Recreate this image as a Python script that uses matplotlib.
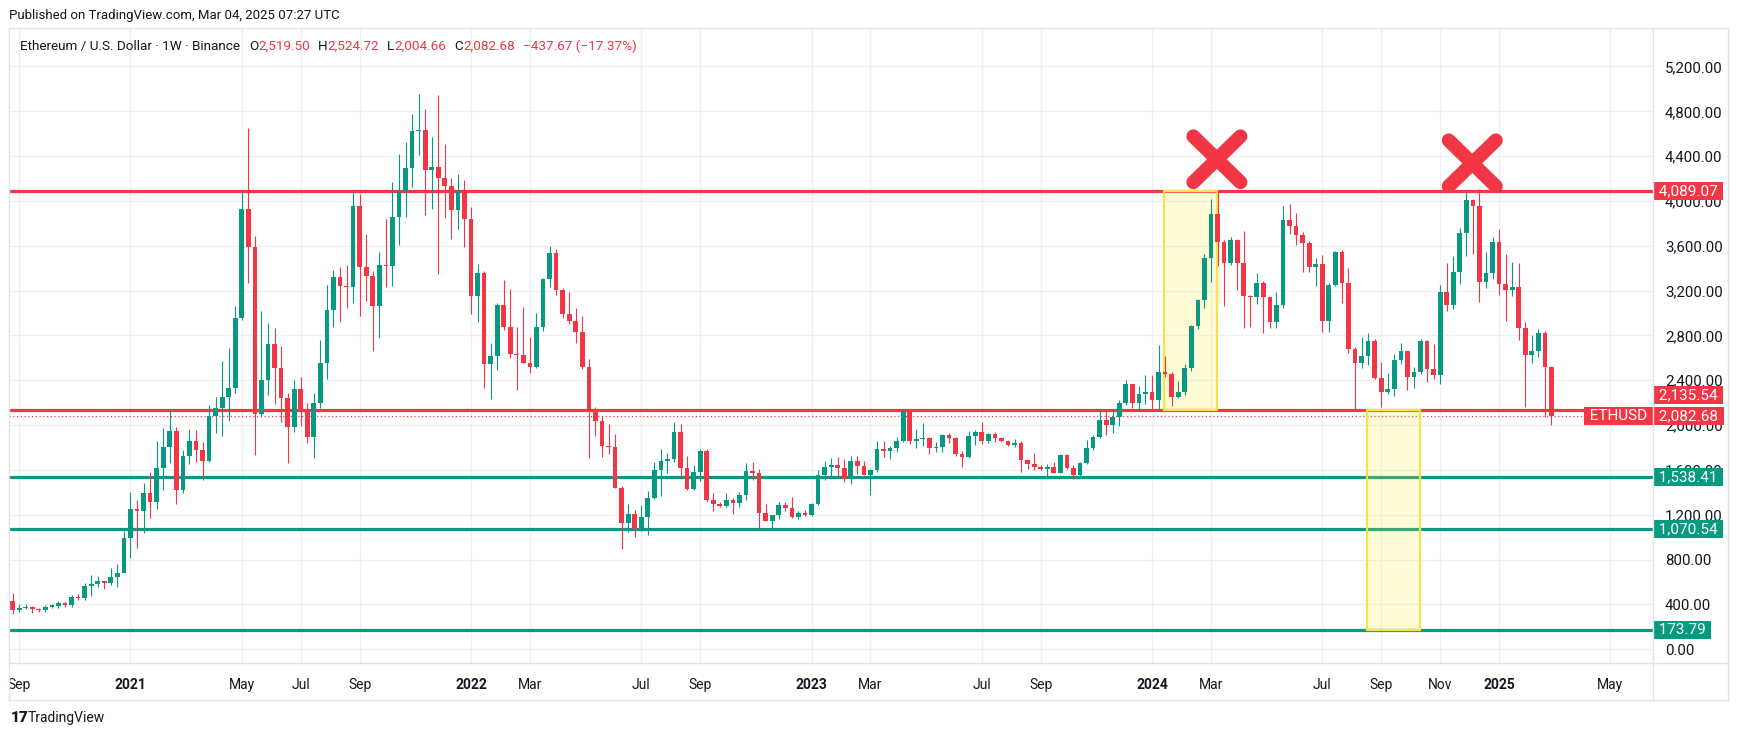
import numpy as np
import pandas as pd
import matplotlib
matplotlib.use('Agg')
import matplotlib.pyplot as plt
from matplotlib.patches import Rectangle
from matplotlib.transforms import Bbox, TransformedBbox

plt.rcParams['font.family'] = ['Roboto', 'DejaVu Sans']

# ETHUSD weekly candles (Binance), first bar = week of 31 Aug 2020
first_week = '2020-08-31'
opens = [434, 353, 370, 380, 358, 346, 380, 384, 412, 394, 465, 453, 563, 581, 610, 592, 643, 684, 990, 1253,
         1232, 1395, 1313, 1618, 1804, 1943, 1419, 1727, 1855, 1781, 1683, 2083, 2155, 2250, 2332, 2960, 3929, 3588, 2101, 2400,
         2723, 2510, 2246, 1979, 2323, 2130, 1890, 2198, 2554, 3025, 3322, 3241, 3232, 3958, 3410, 3330, 3064, 3425, 3419, 3855,
         4092, 4296, 4625, 4634, 4273, 4305, 4201, 4136, 3923, 4077, 3837, 3153, 3354, 2548, 2616, 3070, 2877, 2634, 2625, 2557,
         2521, 2874, 3300, 3532, 3206, 2990, 2930, 2832, 2521, 2136, 2038, 1812, 1802, 1437, 1126, 1203, 1072, 1176, 1345, 1603,
         1683, 1701, 1941, 1615, 1428, 1585, 1772, 1330, 1292, 1274, 1327, 1303, 1372, 1594, 1570, 1215, 1144, 1194, 1283, 1256,
         1179, 1218, 1194, 1292, 1558, 1630, 1647, 1621, 1517, 1683, 1638, 1558, 1603, 1790, 1772, 1799, 1861, 2130, 1861, 1879,
         1887, 1798, 1807, 1914, 1887, 1745, 1718, 1905, 1941, 1861, 1923, 1887, 1861, 1825, 1843, 1686, 1656, 1630, 1612, 1630,
         1576, 1736, 1621, 1553, 1665, 1799, 1896, 2047, 2003, 2068, 2198, 2367, 2201, 2278, 2296, 2221, 2474, 2453, 2253, 2292,
         2509, 2887, 3116, 3488, 3884, 3637, 3449, 3652, 3449, 3152, 3146, 3265, 3140, 2923, 3071, 3830, 3780, 3696, 3622, 3414,
         3434, 2929, 3247, 3545, 3271, 2682, 2551, 2616, 2750, 2423, 2292, 2319, 2581, 2658, 2429, 2474, 2750, 2500, 2447, 3188,
         3074, 3366, 3714, 4009, 3958, 3277, 3357, 3634, 3262, 3208, 3232, 2869, 2628, 2661, 2822, 2519.50]
highs = [498, 400, 403, 388, 370, 392, 403, 430, 424, 483, 492, 590, 661, 652, 612, 729, 761, 1055, 1404, 1327,
         1479, 1582, 1861, 1976, 2136, 1979, 1775, 1967, 1958, 1846, 2181, 2250, 2572, 2687, 3059, 4092, 4652, 3683, 3019, 2915,
         2868, 2705, 2287, 2403, 2430, 2201, 2282, 2760, 3247, 3384, 3407, 3428, 4092, 4065, 3701, 3372, 3541, 3843, 4172, 4421,
         4527, 4776, 4957, 4821, 4572, 4945, 4510, 4207, 4243, 4190, 3950, 3434, 3375, 2732, 3090, 3292, 3212, 2877, 3052, 2785,
         2998, 3310, 3594, 3567, 3221, 3185, 3043, 2972, 2590, 2160, 2083, 2012, 1923, 1455, 1292, 1241, 1283, 1416, 1668, 1790,
         1754, 2030, 2012, 1727, 1647, 1790, 1790, 1398, 1315, 1390, 1345, 1407, 1665, 1674, 1612, 1292, 1200, 1310, 1310, 1354,
         1232, 1238, 1301, 1603, 1683, 1709, 1718, 1701, 1727, 1727, 1683, 1610, 1861, 1861, 1816, 1896, 2145, 2136, 1967, 2021,
         1896, 1852, 1923, 1932, 1896, 1772, 1950, 1959, 2030, 1932, 1941, 1896, 1870, 1878, 1861, 1701, 1754, 1640, 1656, 1674,
         1745, 1745, 1640, 1674, 1870, 1914, 2136, 2136, 2136, 2225, 2403, 2367, 2350, 2447, 2447, 2715, 2616, 2470, 2393, 2545,
         2893, 3125, 3524, 4017, 4089, 3650, 3675, 3660, 3732, 3160, 3354, 3283, 3145, 3188, 3955, 3976, 3896, 3720, 3643, 3488,
         3515, 3265, 3553, 3562, 3405, 2700, 2786, 2822, 2765, 2566, 2462, 2634, 2732, 2665, 2521, 2765, 2755, 2726, 3247, 3443,
         3509, 3759, 4098, 4020, 4104, 3545, 3678, 3750, 3527, 3455, 3446, 2920, 2804, 2857, 2840, 2524.72]
lows = [314, 335, 358, 323, 335, 336, 367, 364, 376, 376, 441, 441, 474, 554, 536, 572, 554, 684, 812, 900,
        1037, 1170, 1250, 1425, 1659, 1292, 1398, 1656, 1674, 1514, 1668, 1925, 1900, 2032, 2290, 2942, 3265, 1730, 2068, 2264,
        2184, 2030, 1659, 1935, 1988, 1837, 1704, 2150, 2412, 2877, 2916, 3046, 3093, 2975, 3105, 2664, 2779, 3233, 3239, 3606,
        3855, 4122, 4412, 3873, 3926, 3348, 3846, 3659, 3748, 3588, 2993, 2918, 2332, 2231, 2495, 2850, 2596, 2317, 2557, 2462,
        2510, 2838, 3233, 3161, 2960, 2901, 2735, 2504, 1704, 1905, 1713, 1745, 1437, 895, 1049, 1002, 1055, 1020, 1339, 1366,
        1570, 1668, 1535, 1420, 1420, 1499, 1312, 1232, 1268, 1265, 1203, 1268, 1333, 1511, 1081, 1140, 1081, 1161, 1230, 1170,
        1161, 1185, 1188, 1283, 1508, 1544, 1544, 1496, 1472, 1562, 1553, 1375, 1580, 1718, 1695, 1763, 1852, 1834, 1798, 1816,
        1745, 1763, 1763, 1843, 1727, 1630, 1709, 1825, 1834, 1843, 1852, 1852, 1816, 1807, 1579, 1606, 1603, 1603, 1550, 1570,
        1570, 1612, 1523, 1544, 1656, 1781, 1887, 1914, 1932, 1994, 2181, 2154, 2127, 2190, 2140, 2140, 2426, 2170, 2245, 2268,
        2480, 2860, 3042, 3280, 3420, 3066, 3428, 3205, 2869, 2878, 3080, 2825, 2869, 2869, 3048, 3705, 3610, 3369, 3369, 3244,
        2834, 2834, 3241, 3092, 2646, 2134, 2509, 2539, 2414, 2158, 2280, 2262, 2545, 2313, 2331, 2453, 2387, 2411, 2364, 3021,
        3036, 3259, 3509, 3527, 3101, 3226, 3307, 3164, 2932, 3155, 2759, 2164, 2557, 2610, 2075, 2004.66]
closes = opens[1:] + [2082.68]

# horizontal levels drawn on the chart
red_levels = [4089.07, 2135.54]
green_levels = [1538.41, 1070.54, 173.79]
last_price = 2082.68

# highlighted boxes (bar index from / to, price from / to)
box_x0 = [175.8, 206.9]
box_x1 = [183.9, 214.9]
box_lo = [2135.54, 173.79]
box_hi = [4089.07, 2135.54]

# red crosses above the two tops (bar index, price)
cross_x = [183.9, 222.9]
cross_y = [4372, 4336]

# time axis labels
month_ticks = ['2020-09', '2021-01', '2021-05', '2021-07', '2021-09', '2022-01', '2022-03', '2022-07', '2022-09',
               '2023-01', '2023-03', '2023-07', '2023-09', '2024-01', '2024-03', '2024-07', '2024-09', '2024-11',
               '2025-01', '2025-05']
month_labels = ['Sep', '2021', 'May', 'Jul', 'Sep', '2022', 'Mar', 'Jul', 'Sep', '2023', 'Mar', 'Jul', 'Sep',
                '2024', 'Mar', 'Jul', 'Sep', 'Nov', '2025', 'May']
price_ticks = np.arange(0, 5201, 400)

RED = '#F23645'
GREEN = '#089981'
TXT = '#131722'
GRID = '#F0F0F0'
W, H = 1737, 737

o = np.array(opens, float)
h = np.array(highs, float)
l = np.array(lows, float)
c = np.array(closes, float)
n = len(o)
idx = np.arange(n)
weeks = pd.date_range(first_week, periods=n + 20, freq='W-MON')
up = c >= o

fig = plt.figure(figsize=(W / 100, H / 100), dpi=100)
ax = fig.add_axes([9 / W, 1 - 662.5 / H, (1653 - 9) / W, (662.5 - 28) / H])
ax.set_xlim(-0.55, 250.5)
ax.set_ylim(-118.7, 5543.5)

# grid
tick_pos = [weeks.searchsorted(pd.Timestamp(m + '-01')) for m in month_ticks]
for x in tick_pos:
    ax.axvline(x, color=GRID, lw=1, zorder=0)
for y in price_ticks:
    ax.axhline(y, color=GRID, lw=1, zorder=0)

# levels
for y in red_levels:
    ax.axhline(y, color=RED, lw=2.3, zorder=2)
for y in green_levels:
    ax.axhline(y, color=GREEN, lw=2.3, zorder=2)
ax.axhline(last_price, color=RED, lw=0.9, ls=(0, (1, 2)), zorder=2)

# yellow boxes
for x0, x1, lo, hi in zip(box_x0, box_x1, box_lo, box_hi):
    ax.add_patch(Rectangle((x0, lo), x1 - x0, hi - lo, facecolor=(1, 0.92, 0.23, 0.2),
                           edgecolor='#F7E44A', lw=1.6, zorder=3))

# candles
colors = np.where(up, GREEN, RED)
ax.vlines(idx, l, h, colors=colors, lw=0.8, zorder=4)
body = np.abs(c - o)
body = np.where(body < 10, 10, body)
ax.bar(idx, body, bottom=np.minimum(o, c), width=0.72, color=colors, lw=0, zorder=5)

# crosses
for cx, cy in zip(cross_x, cross_y):
    ax.plot([cx - 3.6, cx + 3.6], [cy + 205, cy - 205], color=RED, lw=10, solid_capstyle='round', zorder=6)
    ax.plot([cx - 3.6, cx + 3.6], [cy - 205, cy + 205], color=RED, lw=10, solid_capstyle='round', zorder=6)

# axes
for s in ax.spines.values():
    s.set_visible(False)
ax.yaxis.tick_right()
ax.set_yticks(price_ticks)
ax.set_yticklabels(['{:,.2f}'.format(v) for v in price_ticks])
ax.set_xticks(tick_pos)
ax.set_xticklabels(month_labels)
for t in ax.get_xticklabels():
    if t.get_text().isdigit():
        t.set_fontweight('bold')
ax.tick_params(axis='y', length=0, pad=8.5, labelsize=10.8, labelcolor=TXT)
ax.tick_params(axis='x', length=0, pad=11, labelsize=10, labelcolor=TXT)
# first label is cut by the pane border
first = ax.get_xticklabels()[0]
first.set_clip_on(True)
first.set_clip_box(TransformedBbox(Bbox([[9.5 / W, 0], [1, 1]]), fig.transFigure))

# price labels on the scale
box = dict(boxstyle='square,pad=0.12', lw=0)
def price_tag(y, col, dy=0):
    ax.annotate(' {:,.2f} '.format(y), xy=(1, y), xycoords=ax.get_yaxis_transform(), xytext=(1.5, dy),
                textcoords='offset points', ha='left', va='center', color='white', fontsize=11,
                bbox=dict(box, fc=col), zorder=10, annotation_clip=False)

price_tag(4089.07, RED)
price_tag(2135.54, RED, 10.8)
price_tag(last_price, RED)
for y in green_levels:
    price_tag(y, GREEN)
ax.annotate(' ETHUSD ', xy=(1, last_price), xycoords=ax.get_yaxis_transform(), xytext=(-1.5, 0),
            textcoords='offset points', ha='right', va='center', color='white', fontsize=11,
            bbox=dict(box, fc=RED), zorder=10, annotation_clip=False)

# frame lines
def fline(x0, y0, x1, y1):
    fig.add_artist(plt.Line2D([x0 / W, x1 / W], [1 - y0 / H, 1 - y1 / H], color='#E0E3EB', lw=1))

fline(9, 28, 1728, 28)
fline(9, 700, 1728, 700)
fline(9, 28, 9, 700)
fline(1728, 28, 1728, 700)
fline(1653, 28, 1653, 700)
fline(9, 662.5, 1728, 662.5)

# header texts
fig.text(9 / W, 1 - 15.5 / H, 'Published on TradingView.com, Mar 04, 2025 07:27 UTC', fontsize=9.5,
         color=TXT, va='center')

fig.canvas.draw()
r = fig.canvas.get_renderer()
x = 20
parts = [('Ethereum / U.S. Dollar · 1W · Binance', TXT, 9), ('O', TXT, 0), ('2,519.50', RED, 8),
         ('H', TXT, 0), ('2,524.72', RED, 8), ('L', TXT, 0), ('2,004.66', RED, 8),
         ('C', TXT, 0), ('2,082.68', RED, 8), ('−437.67 (−17.37%)', RED, 0)]
for s, col, gap in parts:
    t = fig.text(x / W, 1 - 46.5 / H, s, fontsize=9.7, color=col, va='center')
    x += t.get_window_extent(r).width + gap

fig.text(11 / W, 1 - 718 / H, '17', fontsize=11, fontweight='black', color=TXT, va='center')
fig.text(28 / W, 1 - 718 / H, 'TradingView', fontsize=10, color=TXT, va='center')

fig.savefig('out.png', dpi=100, facecolor='white')
